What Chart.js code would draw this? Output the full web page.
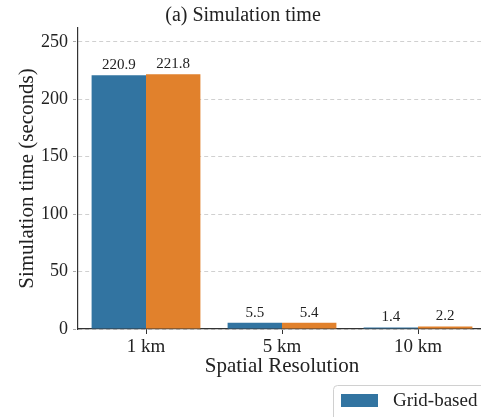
<!DOCTYPE html>
<html>
<head>
<meta charset="utf-8">
<script src="https://cdn.jsdelivr.net/npm/chart.js@4"></script>
<style>
  html, body { margin: 0; padding: 0; background: #fff; overflow: hidden; }
  #wrap { width: 500px; height: 417px; }
</style>
</head>
<body>
<div id="wrap"><canvas id="chart" width="500" height="417"></canvas></div>
<script>
// data
const categories = ['1 km', '5 km', '10 km'];
const gridBased = [220.9, 5.5, 1.4];
const otherSeries = [221.8, 5.4, 2.2];
const seriesNames = ['Grid-based', 'Graph-based'];
const yTickValues = [0, 50, 100, 150, 200, 250];

const FONT = "'Liberation Serif', 'DejaVu Serif', serif";
const TEXT = '#222';

// value labels above each bar
const barLabels = {
  id: 'barLabels',
  afterDatasetsDraw(chart) {
    const ctx = chart.ctx;
    ctx.save();
    ctx.font = '15px ' + FONT;
    ctx.fillStyle = TEXT;
    ctx.textAlign = 'center';
    ctx.textBaseline = 'alphabetic';
    chart.data.datasets.forEach((ds, i) => {
      chart.getDatasetMeta(i).data.forEach((bar, j) => {
        ctx.fillText(ds.data[j].toFixed(1), bar.x, bar.y - 6);
      });
    });
    ctx.restore();
  }
};

// legend box at the lower right (cut by the frame like the original)
const boxLegend = {
  id: 'boxLegend',
  afterDraw(chart) {
    const ctx = chart.ctx;
    const x0 = 333, y0 = 385;
    ctx.save();
    ctx.strokeStyle = '#d0d0d0';
    ctx.lineWidth = 1;
    ctx.fillStyle = 'rgba(255,255,255,0.9)';
    ctx.beginPath();
    ctx.roundRect(x0 + 0.5, y0 + 0.5, 200, 70, 4);
    ctx.fill();
    ctx.stroke();
    ctx.font = '19px ' + FONT;
    ctx.textBaseline = 'middle';
    chart.data.datasets.forEach((ds, i) => {
      const cy = y0 + 15 + i * 26;
      ctx.fillStyle = ds.backgroundColor;
      ctx.fillRect(x0 + 8, cy - 6, 37, 13);
      ctx.fillStyle = TEXT;
      ctx.fillText(ds.label, x0 + 60, cy + 1);
    });
    ctx.restore();
  }
};

new Chart(document.getElementById('chart'), {
  type: 'bar',
  data: {
    labels: categories,
    datasets: [
      { label: seriesNames[0], data: gridBased, backgroundColor: '#3274A1', borderWidth: 0 },
      { label: seriesNames[1], data: otherSeries, backgroundColor: '#E1812C', borderWidth: 0 }
    ]
  },
  options: {
    responsive: false,
    animation: false,
    events: [],
    layout: { padding: { top: 0, right: 14, bottom: 38, left: 0 } },
    datasets: { bar: { categoryPercentage: 0.8, barPercentage: 1.0 } },
    plugins: {
      legend: { display: false },
      tooltip: { enabled: false },
      title: {
        display: true,
        text: '(a) Simulation time',
        color: TEXT,
        font: { family: FONT, size: 20, weight: 'normal', lineHeight: 1.2 },
        padding: { top: 4, bottom: 0 }
      }
    },
    scales: {
      x: {
        grid: {
          display: true, offset: false, drawOnChartArea: false,
          tickLength: 5, tickColor: '#333', tickWidth: 1
        },
        border: { display: true, color: '#333', width: 1.2 },
        ticks: { color: TEXT, padding: 2, font: { family: FONT, size: 19 } },
        title: {
          display: true, text: 'Spatial Resolution', color: TEXT,
          font: { family: FONT, size: 21, lineHeight: 1.2 },
          padding: { top: 0, bottom: 0 }
        },
        afterFit(scale) { scale.height = 50; }
      },
      y: {
        min: 0,
        max: 262,
        afterBuildTicks(scale) { scale.ticks = yTickValues.map(v => ({ value: v })); },
        grid: {
          color: '#d0d0d0', lineWidth: 1,
          tickLength: 5, tickColor: '#aaa', tickWidth: 1, tickBorderDash: [3, 2]
        },
        border: { display: true, color: '#333', width: 1.2, dash: [4, 3] },
        ticks: { color: TEXT, padding: 5, font: { family: FONT, size: 18 } },
        title: {
          display: true, text: 'Simulation time (seconds)', color: TEXT,
          font: { family: FONT, size: 21, lineHeight: 1.2 },
          padding: { top: 15, bottom: 0 }
        },
        afterFit(scale) { scale.width = 78; }
      }
    }
  },
  plugins: [barLabels, boxLegend]
});
</script>
</body>
</html>
